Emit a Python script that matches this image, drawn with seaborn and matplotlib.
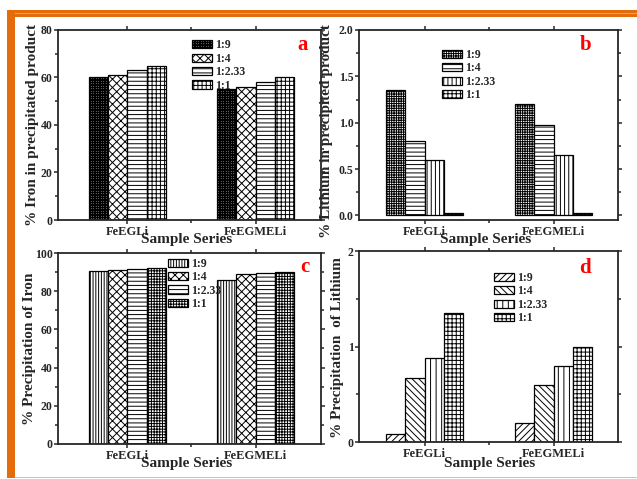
import numpy as np
import pandas as pd
import matplotlib.pyplot as plt
import matplotlib.patches as mpatches
from matplotlib.ticker import MultipleLocator, FixedLocator, FormatStrFormatter
import seaborn as sns

# -------------------------
# Data
# -------------------------
series = ["FeEGLi", "FeEGMELi"]
ratios = ["1:9", "1:4", "1:2.33", "1:1"]

# one list per series, values in ratio order
iron_in_product = [[60, 61, 63, 65], [55, 56, 58, 60]]
lithium_in_product = [[1.35, 0.80, 0.60, 0.03], [1.20, 0.98, 0.65, 0.03]]
iron_precipitation = [[90.4, 90.9, 91.6, 92.3], [86.1, 88.9, 89.4, 90.1]]
lithium_precipitation = [[0.08, 0.67, 0.88, 1.35], [0.20, 0.60, 0.80, 1.00]]


def to_frame(values):
    rows = []
    for s, vals in zip(series, values):
        for r, v in zip(ratios, vals):
            rows.append({"Series": s, "Ratio": r, "Value": v})
    return pd.DataFrame(rows)


sns.set_style("ticks")
plt.rcParams["font.family"] = ["Liberation Serif", "DejaVu Serif"]
plt.rcParams["font.weight"] = "bold"
plt.rcParams["axes.labelweight"] = "bold"
plt.rcParams["hatch.linewidth"] = 0.7
plt.rcParams["hatch.color"] = "black"

panels = [
    dict(values=iron_in_product, rect=[0.0911, 0.5407, 0.4129, 0.3967],
         hatches=["++++++++++", "xxxx", "----", "++++"],
         ylim=(0, 80), major=20, minor=10, fmt="%d", xlim=(-0.54, 1.51),
         ylabel="% Iron in precipitated product", letter="a",
         ylab=(-0.072, 0.5), xlab=(0.49, -0.07), leg=(0.51, 0.95), let=(0.93, 0.92)),
    dict(values=lithium_in_product, rect=[0.5636, 0.5407, 0.4066, 0.3967],
         hatches=["+++++++", "----", "||||", "++++"],
         ylim=(-0.05, 2.0), major=0.5, minor=0.25, fmt="%.1f", xlim=(-0.51, 1.5),
         ylabel="% Lithium in precipited product", letter="b",
         ylab=(-0.1, 0.47), xlab=(0.487, -0.068), leg=(0.32, 0.90), let=(0.873, 0.92)),
    dict(values=iron_precipitation, rect=[0.0911, 0.0731, 0.4129, 0.3987],
         hatches=["||||||", "xxxx", "----", "++++++"],
         ylim=(0, 100), major=20, minor=10, fmt="%d", xlim=(-0.54, 1.51),
         ylabel="% Precipitation of Iron", letter="c",
         ylab=(-0.085, 0.5), xlab=(0.49, -0.068), leg=(0.418, 0.975), let=(0.94, 0.927)),
    dict(values=lithium_precipitation, rect=[0.5636, 0.0772, 0.4066, 0.3987],
         hatches=["/////", "\\\\\\\\\\", "|||", "++++"],
         ylim=(0, 2), major=1, minor=0.5, fmt="%d", xlim=(-0.51, 1.5),
         ylabel="% Precipitation  of Lithium", letter="d",
         ylab=(-0.058, 0.497), xlab=(0.506, -0.079), leg=(0.521, 0.89), let=(0.873, 0.91)),
]

fig = plt.figure(figsize=(6.37, 4.79), dpi=100)

for p in panels:
    ax = fig.add_axes(p["rect"])
    df = to_frame(p["values"])
    sns.barplot(data=df, x="Series", y="Value", hue="Ratio", order=series,
                hue_order=ratios, palette=["white"] * 4, saturation=1,
                width=0.6, edgecolor="black", linewidth=0.9, legend=False, ax=ax)
    for cont, h in zip(ax.containers, p["hatches"]):
        for bar in cont:
            bar.set_hatch(h)

    ax.set_xlim(*p["xlim"])
    ax.set_ylim(*p["ylim"])
    ax.yaxis.set_major_locator(MultipleLocator(p["major"]))
    ax.yaxis.set_minor_locator(MultipleLocator(p["minor"]))
    ax.yaxis.set_major_formatter(FormatStrFormatter(p["fmt"]))
    ax.xaxis.set_minor_locator(FixedLocator([0.5]))
    ax.tick_params(which="both", direction="out", top=True, right=True,
                   labeltop=False, labelright=False, width=1.1, pad=1)
    ax.tick_params(axis="x", labelsize=9)
    ax.tick_params(axis="y", labelsize=8.5)
    ax.tick_params(which="major", length=3)
    ax.tick_params(which="minor", length=2.5)
    for lab in ax.get_xticklabels() + ax.get_yticklabels():
        lab.set_fontweight("bold")
    for sp in ax.spines.values():
        sp.set_linewidth(1.3)
        sp.set_visible(True)

    ax.set_ylabel(p["ylabel"], fontsize=11)
    ax.yaxis.set_label_coords(*p["ylab"])
    ax.set_xlabel("Sample Series", fontsize=11, va="top")
    ax.xaxis.set_label_coords(*p["xlab"])

    ax.legend(ax.containers, ratios, loc="upper left", bbox_to_anchor=p["leg"],
              frameon=False, handlelength=1.7, handleheight=0.7,
              handletextpad=0.25, labelspacing=0.12, borderpad=0, borderaxespad=0,
              prop={"weight": "bold", "size": 8.5})

    ax.text(p["let"][0], p["let"][1], p["letter"], transform=ax.transAxes,
            color="red", fontsize=15, fontweight="bold", ha="center", va="center")

# slide-style orange frame
orange = "#E46C0A"
fig.add_artist(mpatches.Rectangle((7 / 637, 1 - 17 / 479), 1, 7 / 479,
                                  transform=fig.transFigure, color=orange, lw=0))
fig.add_artist(mpatches.Rectangle((7 / 637, 1 - 14 / 479), 1, 1.2 / 479,
                                  transform=fig.transFigure, color="#F2A060", lw=0))
fig.add_artist(mpatches.Rectangle((7 / 637, 1 - 478 / 479), 8 / 637, 468 / 479,
                                  transform=fig.transFigure, color=orange, lw=0))
fig.add_artist(mpatches.Rectangle((15 / 637, 1 - 478 / 479), 1, 1.5 / 479,
                                  transform=fig.transFigure, color="#F5B882", lw=0))

fig.savefig("out.png", dpi=100)
